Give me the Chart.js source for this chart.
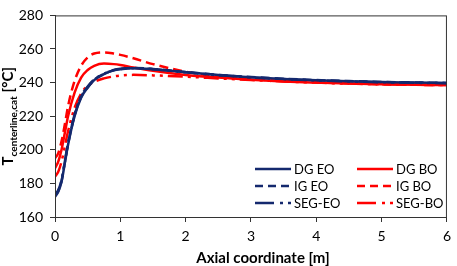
<!DOCTYPE html>
<html>
<head>
<meta charset="utf-8">
<script src="https://cdn.jsdelivr.net/npm/chart.js@4.4.1/dist/chart.umd.min.js"></script>
<style>
  html, body { margin: 0; padding: 0; background: #fff; }
  #wrap { width: 457px; height: 266px; position: relative; }
</style>
</head>
<body>
<div id="wrap"><canvas id="chart_centerlineTemp"></canvas></div>
<script>
// axial positions [m]
var axialPos = [0, 0.05, 0.1, 0.15, 0.2, 0.3, 0.4, 0.5, 0.6, 0.75, 0.9, 1.0, 1.2, 1.5, 2, 2.5, 3, 3.5, 4, 4.5, 5, 5.5, 6];

// centerline catalyst temperature [°C]
var dgEO  = [172, 175, 181, 192, 203, 220, 231, 237, 241.5, 245, 247.3, 248, 248.6, 248, 246.2, 244.5, 243.2, 242.2, 241.4, 240.8, 240.3, 240, 239.7];
var igEO  = [172.5, 175.5, 181.5, 192.5, 203.5, 220.5, 231.5, 237.3, 241.7, 245.2, 247.4, 248.1, 248.7, 248.1, 246.3, 244.6, 243.3, 242.3, 241.5, 240.9, 240.4, 240.1, 239.8];
var segEO = [173, 176, 182, 193, 204, 221, 232, 237.6, 241.9, 245.3, 247.5, 248.2, 248.6, 248, 246.1, 244.4, 243.1, 242.1, 241.3, 240.7, 240.2, 239.9, 239.6];
var dgBO  = [189, 193, 200, 210, 220, 234, 243, 247.5, 250, 251.3, 251, 250.5, 249, 247, 244.5, 243, 241.7, 240.7, 240, 239.4, 239, 238.7, 238.5];
var igBO  = [195, 198, 205, 215, 226, 241, 250, 255, 257.3, 258, 257.3, 256.5, 254.5, 251, 246.5, 243.5, 242, 241, 240.2, 239.5, 239, 238.7, 238.5];
var segBO = [184, 187, 193, 202, 211, 225, 233.5, 238, 240.5, 242.5, 243.7, 244.2, 244.6, 244.3, 243.5, 242.5, 241.5, 240.7, 240, 239.4, 239, 238.7, 238.5];

var xTicks = [0, 1, 2, 3, 4, 5, 6];
var yTicks = [160, 180, 200, 220, 240, 260, 280];

var NAVY = '#14296e';
var RED = '#ff0000';
var FONT = 'Lato, "Open Sans", sans-serif';

function pts(ys) {
    return axialPos.map(function (x, i) { return { x: x, y: ys[i] }; });
}

function series(label, ys, color, dash, legendDash) {
    return {
        label: label,
        data: pts(ys),
        borderColor: color,
        backgroundColor: color,
        borderWidth: 2.5,
        borderDash: dash,
        legendDash: legendDash,
        pointRadius: 0,
        fill: false,
        cubicInterpolationMode: 'monotone'
    };
}

var DASH = [9, 5];
var DASHDOT = [15, 5, 3, 5, 3, 5];

var chart_centerlineTemp = new Chart(document.getElementById('chart_centerlineTemp'), {
    type: 'line',
    data: {
        datasets: [
            series('DG EO', dgEO, NAVY, [], []),
            series('IG EO', igEO, NAVY, DASH, [8, 5]),
            series('SEG-EO', segEO, NAVY, DASHDOT, [19, 6, 3, 5, 3, 5]),
            series('DG BO', dgBO, RED, [], []),
            series('IG BO', igBO, RED, DASH, [8, 5]),
            series('SEG-BO', segBO, RED, DASHDOT, [19, 6, 3, 5, 3, 5])
        ]
    },
    options: {
        animation: false,
        responsive: true,
        maintainAspectRatio: false,
        layout: { padding: { top: 5, right: 4, left: 0, bottom: 0 } },
        plugins: {
            legend: { display: false },
            tooltip: { enabled: false }
        },
        scales: {
            x: {
                type: 'linear',
                min: 0,
                max: 6,
                afterBuildTicks: function (scale) {
                    scale.ticks = xTicks.map(function (v) { return { value: v }; });
                },
                afterFit: function (scale) { scale.height = 49; },
                ticks: {
                    color: '#000',
                    padding: 6,
                    maxRotation: 0,
                    font: { family: FONT, size: 14 }
                },
                grid: {
                    drawOnChartArea: false,
                    tickLength: 5,
                    color: '#333'
                },
                border: { color: '#333', width: 1 }
            },
            y: {
                min: 160,
                max: 280,
                afterBuildTicks: function (scale) {
                    scale.ticks = yTicks.map(function (v) { return { value: v }; });
                },
                afterFit: function (scale) { scale.width = 55; },
                ticks: {
                    color: '#000',
                    padding: 7,
                    font: { family: FONT, size: 14 }
                },
                grid: {
                    drawOnChartArea: false,
                    tickLength: 5,
                    color: '#333'
                },
                border: { color: '#333', width: 1 }
            }
        }
    },
    plugins: [{
        id: 'customPlugin',
        beforeDraw: function (chart) {
            var ctx = chart.ctx;
            ctx.save();
            ctx.fillStyle = 'white';
            ctx.fillRect(0, 0, chart.width, chart.height);
            ctx.restore();
        },
        afterDraw: function (chart) {
            var ctx = chart.ctx;
            var area = chart.chartArea;
            ctx.save();

            // frame
            ctx.strokeStyle = '#333';
            ctx.lineWidth = 1;
            ctx.strokeRect(area.left + 0.5, area.top + 0.5, area.right - area.left - 1, area.bottom - area.top);

            // x title
            ctx.fillStyle = '#000';
            ctx.font = 'bold 15px ' + FONT;
            ctx.textAlign = 'center';
            ctx.textBaseline = 'middle';
            ctx.fillText('Axial coordinate [m]', 263, 258);

            // y title with subscript
            var big = 'bold 15px ' + FONT;
            var small = 'bold 10px ' + FONT;
            ctx.font = big;
            var wT = ctx.measureText('T').width;
            var wU = ctx.measureText(' [°C]').width;
            ctx.font = small;
            var wS = ctx.measureText('centerline,cat').width;
            var total = wT + wS + wU;
            ctx.translate(13, (area.top + area.bottom) / 2);
            ctx.rotate(-Math.PI / 2);
            ctx.textAlign = 'left';
            ctx.textBaseline = 'alphabetic';
            var x0 = -total / 2;
            ctx.font = big;
            ctx.fillText('T', x0, 0);
            ctx.font = small;
            ctx.fillText('centerline,cat', x0 + wT, 4);
            ctx.font = big;
            ctx.fillText(' [°C]', x0 + wT + wS, 0);
            ctx.setTransform(1, 0, 0, 1, 0, 0);

            // legend: EO column left, BO column right
            var cols = [255, 357];
            var rows = [169, 186, 203];
            ctx.font = '13px ' + FONT;
            ctx.textBaseline = 'middle';
            chart.data.datasets.forEach(function (ds, i) {
                var cx = cols[Math.floor(i / 3)];
                var cy = rows[i % 3];
                ctx.strokeStyle = ds.borderColor;
                ctx.lineWidth = 2.5;
                ctx.setLineDash(ds.legendDash);
                ctx.beginPath();
                ctx.moveTo(cx, cy);
                ctx.lineTo(cx + 36, cy);
                ctx.stroke();
                ctx.setLineDash([]);
                ctx.fillStyle = '#000';
                ctx.textAlign = 'left';
                ctx.fillText(ds.label, cx + 39, cy + 1);
            });
            ctx.restore();
        }
    }]
});
</script>
</body>
</html>
